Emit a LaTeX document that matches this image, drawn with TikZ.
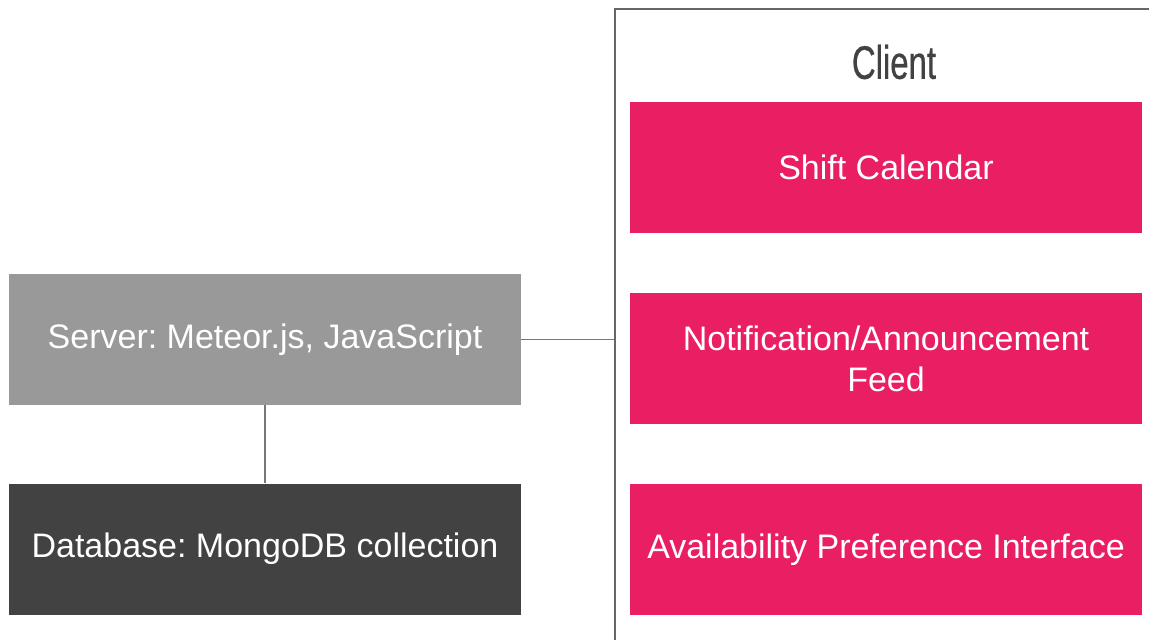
\documentclass[tikz,border=0pt]{standalone}
\usepackage{fontspec}
\setmainfont{Liberation Sans}
\newfontfamily\titlefont[FakeStretch=0.7,FakeBold=0.6]{Liberation Sans}
\usepackage{tikz}
\definecolor{srvgray}{HTML}{999999}
\definecolor{dbgray}{HTML}{424242}
\definecolor{pink}{HTML}{E91E63}
\definecolor{linegray}{HTML}{777777}
\frenchspacing

\begin{document}
\begin{tikzpicture}[x=1pt,y=-1pt]
\tikzset{box/.style = {shape=rectangle,minimum width=512pt,minimum height=131pt,
  text=white,align=center,font=\fontsize{34}{41}\selectfont,inner sep=0pt}}
\tikzset{link/.style = {draw=linegray,line width=1.6pt}}
\path[use as bounding box,clip] (0,0) rectangle (1149,640);
% client frame, runs off the page
\node[draw=black!60,line width=1.6pt,minimum width=600pt,minimum height=700pt,
  inner sep=0pt,anchor=north west] (client) at (614,8) {};
\node[text=dbgray,font=\titlefont\fontsize{47}{50}\selectfont] (title) at (894,62) {Client};
\node[box,fill=srvgray] (server) at (265,339.5) {Server: Meteor.js, JavaScript};
\node[box,fill=dbgray] (db) at (265,549) {Database: MongoDB collection};
\node[box,fill=pink] (cal) at (886,167.5) {Shift Calendar};
\node[box,fill=pink] (feed) at (886,358.5) {Notification/Announcement\\Feed};
\node[box,fill=pink] (avail) at (886,549.5) {Availability Preference Interface};
\draw[link] (server.east) -- (server.east -| client.west);
\draw[link] (server.south) -- (db.north);
\end{tikzpicture}
\end{document}
